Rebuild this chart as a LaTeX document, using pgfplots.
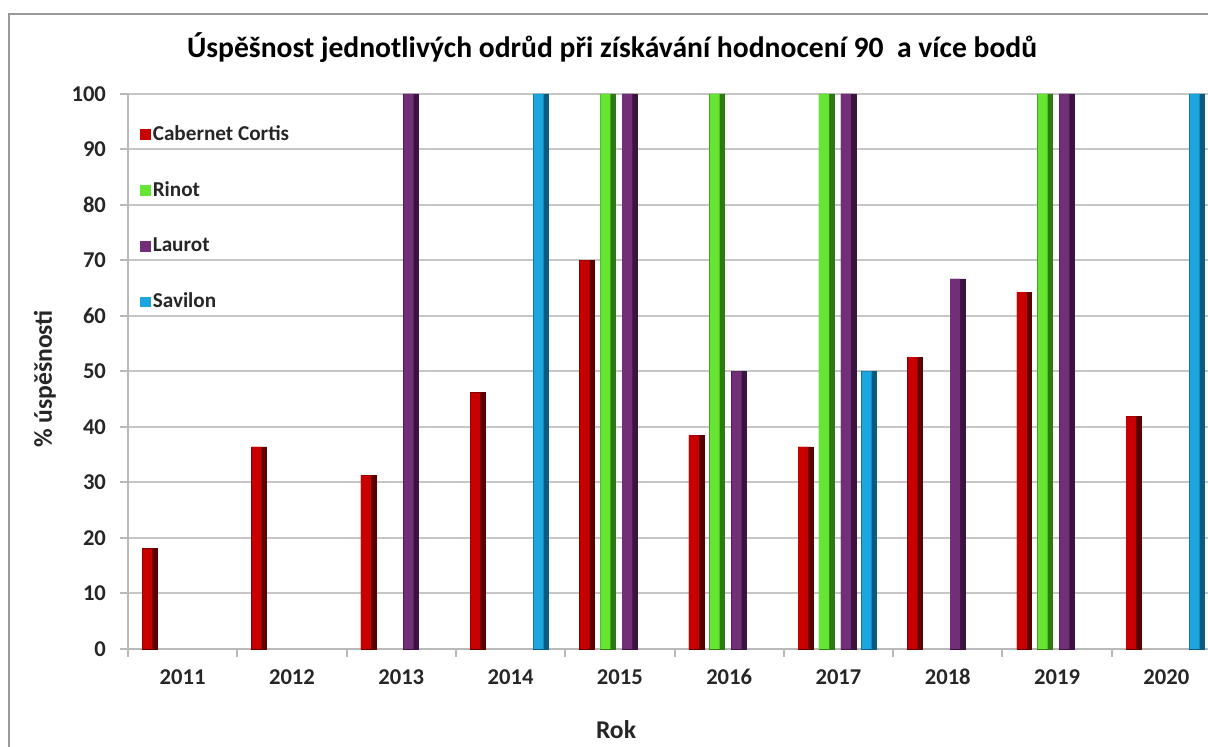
\documentclass[border=0pt]{standalone}
\usepackage{pgfplots}
\pgfplotsset{compat=1.18}
\usepackage{fontspec}
\setmainfont{Carlito}
\definecolor{cab}{HTML}{C80000}
\definecolor{cabd}{HTML}{5A0000}
\definecolor{rin}{HTML}{66E633}
\definecolor{rind}{HTML}{2E7A12}
\definecolor{lau}{HTML}{722F78}
\definecolor{laud}{HTML}{3A143E}
\definecolor{sav}{HTML}{1CA6E0}
\definecolor{savd}{HTML}{0B5A80}
\definecolor{txt}{HTML}{262626}
\pgfplotsset{
  darkbar/.style={fill=#1, draw=#1, line width=0.3pt, forget plot},
  lightbar/.style={fill=#1, draw=none, bar width=0.092,
    legend image code/.code={\fill[##1] (0pt,-2.6pt) rectangle (5.2pt,2.6pt);}},
}
\begin{document}
\begin{tikzpicture}
\begin{axis}[
  at={(64pt,49pt)}, anchor=south west, scale only axis,
  width=540pt, height=277.5pt,
  xmin=-0.5, xmax=9.381, ymin=0, ymax=100,
  axis x line=bottom, axis y line=left,
  axis line style={draw=gray!55, line width=1pt, -},
  ytick={0,10,...,100}, ymajorgrids,
  grid style={draw=gray!45, line width=1pt},
  xtick={-0.5,0.5,...,8.5}, xticklabels={},
  extra x ticks={0,1,2,3,4,5,6,7,8,9},
  extra x tick labels={2011,2012,2013,2014,2015,2016,2017,2018,2019,2020},
  extra x tick style={major tick length=0pt, xmajorgrids=false,
    xticklabel style={yshift=-6pt, text height=8pt, text depth=0pt}},
  tick align=outside, major tick length=4pt,
  tick style={draw=gray!55, line width=1pt},
  ticklabel style={font=\fontsize{11.3}{13}\selectfont\bfseries, text=txt},
  yticklabel style={xshift=-3.5pt},
  /pgf/number format/assume math mode=true,
  ybar, bar width=0.137,
  legend style={at={(rel axis cs:0,1)}, anchor=north west, xshift=3pt, yshift=-12.5pt,
    draw=none, fill=none, font=\fontsize{10.6}{12}\selectfont\bfseries, text=txt,
    row sep=17.2pt, nodes={inner sep=1pt}},
  legend cell align=left,
  clip=false,
]
% dark bases (full bar width)
\addplot[darkbar=cabd, bar shift=-0.30] coordinates {(0,18.1) (1,36.4) (2,31.3) (3,46.2) (4,70) (5,38.5) (6,36.4) (7,52.6) (8,64.3) (9,41.9)};
\addplot[darkbar=rind, bar shift=-0.11] coordinates {(4,100) (5,100) (6,100) (8,100)};
\addplot[darkbar=laud, bar shift=0.09] coordinates {(2,100) (4,100) (5,50) (6,100) (7,66.7) (8,100)};
\addplot[darkbar=savd, bar shift=0.28] coordinates {(3,100) (6,50) (9,100)};
% lighter faces
\addplot[lightbar=cab, bar shift=-0.3225] coordinates {(0,18.1) (1,36.4) (2,31.3) (3,46.2) (4,70) (5,38.5) (6,36.4) (7,52.6) (8,64.3) (9,41.9)};
\addlegendentry{Cabernet Cortis}
\addplot[lightbar=rin, bar shift=-0.1325] coordinates {(4,100) (5,100) (6,100) (8,100)};
\addlegendentry{Rinot}
\addplot[lightbar=lau, bar shift=0.0675] coordinates {(2,100) (4,100) (5,50) (6,100) (7,66.7) (8,100)};
\addlegendentry{Laurot}
\addplot[lightbar=sav, bar shift=0.2575] coordinates {(3,100) (6,50) (9,100)};
\addlegendentry{Savilon}
\end{axis}
\draw[gray!80, line width=1.2pt] (4.5pt,-20pt) rectangle (650pt,366.5pt);
\node[font=\fontsize{14.8}{17}\selectfont\bfseries, text=black] at (306pt,349.5pt) {Úspěšnost jednotlivých odrůd při získávání hodnocení 90\ \ a více bodů};
\node[font=\fontsize{12.8}{15}\selectfont\bfseries, text=txt, rotate=90] at (22.5pt,184pt) {\% úspěšnosti};
\node[font=\fontsize{12.8}{15}\selectfont\bfseries, text=txt] at (308pt,8.5pt) {Rok};
\pgfresetboundingbox
\path[use as bounding box] (0,0) rectangle (604pt,373.5pt);
\end{tikzpicture}
\end{document}
